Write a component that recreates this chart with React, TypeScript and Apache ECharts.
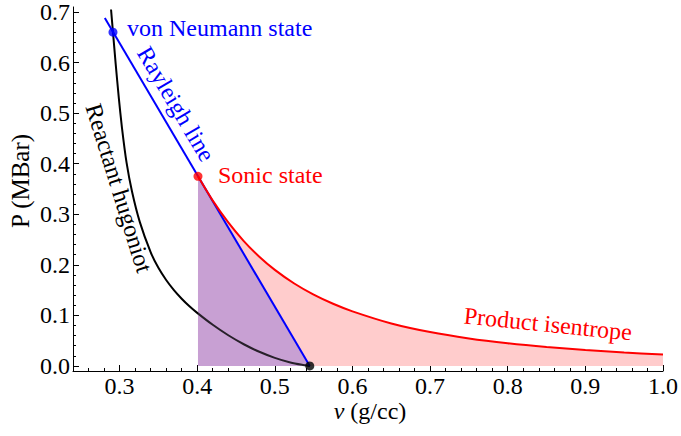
import React, { useEffect, useRef } from "react";
import * as echarts from "echarts";

// Reactant hugoniot (v in g/cc, P in MBar)
const hugoniotV = [0.289, 0.2915, 0.295, 0.299, 0.303, 0.309, 0.316, 0.326, 0.34, 0.35, 0.36, 0.37, 0.38, 0.39, 0.4, 0.42, 0.44, 0.46, 0.48, 0.5, 0.52, 0.535, 0.545];
const hugoniotP = [0.705, 0.66, 0.597, 0.53, 0.472, 0.402, 0.345, 0.285, 0.225, 0.194, 0.17, 0.15, 0.133, 0.118, 0.105, 0.0814, 0.0607, 0.0429, 0.028, 0.016, 0.0068, 0.0022, 0.0];

// Product isentrope
const isentropeV = [0.401, 0.42, 0.44, 0.46, 0.48, 0.5, 0.525, 0.55, 0.575, 0.6, 0.65, 0.7, 0.75, 0.8, 0.85, 0.9, 0.95, 1.0];
const isentropeP = [0.375, 0.327, 0.284, 0.247, 0.216, 0.19, 0.163, 0.141, 0.123, 0.108, 0.084, 0.067, 0.0545, 0.045, 0.0375, 0.0315, 0.0265, 0.0225];

// Rayleigh line
const rayleighV = [0.281, 0.545];
const rayleighP = [0.688, 0.0];

// Shaded e_RL region (under the Rayleigh line, from the sonic state)
const eRLV = [0.401, 0.545];
const eRLP = [0.375, 0.0];

// Marked states
const vonNeumann = [0.2915, 0.66];
const sonicState = [0.401, 0.375];
const initialState = [0.545, 0.0];

// Tick labels
const xMajorTicks = [0.3, 0.4, 0.5, 0.6, 0.7, 0.8, 0.9, 1.0];
const yMajorTicks = [0.0, 0.1, 0.2, 0.3, 0.4, 0.5, 0.6, 0.7];

const xMinorTicks: number[] = [];
for (let i = 13; i <= 49; i++) xMinorTicks.push(Math.round(i * 2) / 100);
const yMinorTicks: number[] = [];
for (let i = 1; i <= 35; i++) yMinorTicks.push(Math.round(i * 2) / 100);

const FONT = "'Liberation Serif', 'Times New Roman', serif";
const FS = 24;
const BLUE = "#0000ff";
const RED = "#ff0000";
const PURPLE = "#c8a0d4";

const zip = (a: number[], b: number[]) => a.map((v, i) => [v, b[i]]);

export default function App() {
  const ref = useRef<HTMLDivElement>(null);
  useEffect(() => {
    if (!ref.current) return;
    const chart = echarts.init(ref.current, undefined, { renderer: "svg" });
    const xCommon = { type: "value", min: 0.24, max: 1.0, position: "bottom", gridIndex: 0 };
    const yCommon = { type: "value", min: -0.01, max: 0.71, position: "left", gridIndex: 0 };
    chart.setOption({
      animation: false,
      backgroundColor: "#ffffff",
      grid: { left: 73, right: 14, top: 5, bottom: 65, containLabel: false },
      xAxis: [
        {
          ...xCommon,
          axisLine: { show: true, onZero: false, lineStyle: { color: "#000", width: 1 } },
          axisTick: { show: true, inside: true, length: 6, customValues: xMajorTicks, lineStyle: { color: "#000" } },
          axisLabel: {
            show: true,
            customValues: xMajorTicks,
            margin: 5,
            color: "#000",
            fontFamily: FONT,
            fontSize: FS,
            lineHeight: 20,
            formatter: (v: number) => v.toFixed(1),
          },
          splitLine: { show: false },
        },
        {
          ...xCommon,
          axisLine: { show: false, onZero: false },
          axisTick: { show: true, inside: true, length: 3, customValues: xMinorTicks, lineStyle: { color: "#000" } },
          axisLabel: { show: false },
          splitLine: { show: false },
        },
      ],
      yAxis: [
        {
          ...yCommon,
          axisLine: { show: true, onZero: false, lineStyle: { color: "#000", width: 1 } },
          axisTick: { show: true, inside: true, length: 6, customValues: yMajorTicks, lineStyle: { color: "#000" } },
          axisLabel: {
            show: true,
            customValues: yMajorTicks,
            margin: 3,
            color: "#000",
            fontFamily: FONT,
            fontSize: FS,
            lineHeight: 20,
            formatter: (v: number) => v.toFixed(1),
          },
          splitLine: { show: false },
        },
        {
          ...yCommon,
          axisLine: { show: false, onZero: false },
          axisTick: { show: true, inside: true, length: 3, customValues: yMinorTicks, lineStyle: { color: "#000" } },
          axisLabel: { show: false },
          splitLine: { show: false },
        },
      ],
      series: [
        {
          name: "e0 area",
          type: "line",
          data: zip(isentropeV, isentropeP),
          showSymbol: false,
          symbol: "none",
          smooth: 0.3,
          lineStyle: { width: 0, opacity: 0 },
          areaStyle: { color: "#ffcccc", opacity: 1, origin: 0 },
          z: 1,
          silent: true,
        },
        {
          name: "eRL area",
          type: "line",
          data: zip(eRLV, eRLP),
          showSymbol: false,
          symbol: "none",
          lineStyle: { width: 0, opacity: 0 },
          areaStyle: { color: PURPLE, opacity: 1, origin: 0 },
          z: 2,
          silent: true,
        },
        {
          name: "Reactant hugoniot",
          type: "line",
          data: zip(hugoniotV, hugoniotP),
          showSymbol: false,
          symbol: "none",
          smooth: 0.2,
          lineStyle: { color: "#000", width: 2 },
          z: 3,
        },
        {
          name: "eRL tint",
          type: "line",
          data: zip(eRLV, eRLP),
          showSymbol: false,
          symbol: "none",
          lineStyle: { width: 0, opacity: 0 },
          areaStyle: { color: PURPLE, opacity: 0.2, origin: 0 },
          z: 4,
          silent: true,
        },
        {
          name: "Rayleigh line",
          type: "line",
          data: zip(rayleighV, rayleighP),
          showSymbol: false,
          symbol: "none",
          lineStyle: { color: BLUE, width: 2 },
          z: 5,
        },
        {
          name: "Product isentrope",
          type: "line",
          data: zip(isentropeV, isentropeP),
          showSymbol: false,
          symbol: "none",
          smooth: 0.3,
          lineStyle: { color: RED, width: 2 },
          z: 6,
        },
        {
          name: "states",
          type: "scatter",
          symbolSize: 9,
          data: [
            { value: vonNeumann, itemStyle: { color: BLUE } },
            { value: sonicState, itemStyle: { color: RED } },
            { value: initialState, itemStyle: { color: "#000" } },
          ],
          z: 7,
        },
      ],
      graphic: [
        { type: "text", x: 127, y: 28, style: { text: "von Neumann state", fill: BLUE, fontFamily: FONT, fontSize: FS, align: "left", verticalAlign: "middle" } },
        { type: "text", x: 176, y: 104, rotation: -1.035, style: { text: "Rayleigh line", fill: BLUE, fontFamily: FONT, fontSize: FS, align: "center", verticalAlign: "middle" } },
        { type: "text", x: 218, y: 175, style: { text: "Sonic state", fill: RED, fontFamily: FONT, fontSize: FS, align: "left", verticalAlign: "middle" } },
        { type: "text", x: 119, y: 188, rotation: -1.269, style: { text: "Reactant hugoniot", fill: "#000", fontFamily: FONT, fontSize: FS, align: "center", verticalAlign: "middle" } },
        { type: "text", x: 548, y: 324, rotation: -0.1, style: { text: "Product isentrope", fill: RED, fontFamily: FONT, fontSize: FS, align: "center", verticalAlign: "middle" } },
        { type: "text", x: 229, y: 298, style: { text: "e", fill: BLUE, fontFamily: FONT, fontSize: FS, fontStyle: "italic", align: "center", verticalAlign: "middle" } },
        { type: "text", x: 235, y: 304, style: { text: "RL", fill: BLUE, fontFamily: FONT, fontSize: 16, align: "left", verticalAlign: "middle" } },
        { type: "text", x: 395, y: 346, style: { text: "e", fill: RED, fontFamily: FONT, fontSize: FS, fontStyle: "italic", align: "center", verticalAlign: "middle" } },
        { type: "text", x: 400, y: 351, style: { text: "0", fill: RED, fontFamily: FONT, fontSize: 16, align: "left", verticalAlign: "middle" } },
        { type: "text", x: 20, y: 181, rotation: Math.PI / 2, style: { text: "P (MBar)", fill: "#000", fontFamily: FONT, fontSize: 25, align: "center", verticalAlign: "middle" } },
        {
          type: "text",
          x: 370,
          y: 411,
          style: {
            text: "{i|ν} (g/cc)",
            fill: "#000",
            fontFamily: FONT,
            fontSize: FS,
            lineHeight: 20,
            align: "center",
            verticalAlign: "middle",
            rich: { i: { fontStyle: "italic", fontFamily: FONT, fontSize: FS, lineHeight: 20, fill: "#000" } },
          },
        },
      ],
    });
    return () => chart.dispose();
  }, []);
  return (
    <div
      ref={ref}
      style={{ position: "absolute", left: 0, top: 0, width: 681, height: 436, background: "#fff" }}
    />
  );
}
